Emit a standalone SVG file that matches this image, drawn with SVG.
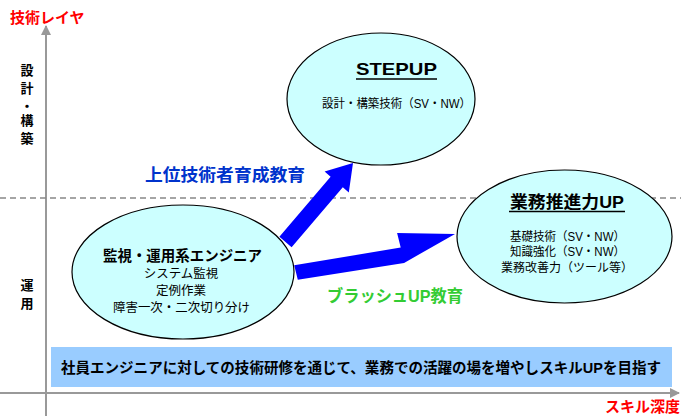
<svg xmlns="http://www.w3.org/2000/svg" width="681" height="416" viewBox="0 0 681 416">
<defs>
<style>
text{font-family:"Liberation Sans","Noto Sans CJK JP",sans-serif;}
.ell{fill:#ccffff;stroke:#000;stroke-width:1.2;}
.t{font-weight:bold;fill:#000;text-anchor:middle;}
.s{fill:#000;text-anchor:middle;}
.red{font-weight:bold;fill:#ff0000;}
.ax{stroke:#999;stroke-width:2;fill:none;}
.arr{fill:#0000ff;}
</style>
<marker id="ah" viewBox="0 0 10 10" refX="9" refY="5" markerWidth="5" markerHeight="5" orient="auto" markerUnits="strokeWidth">
<path d="M0,0 L10,5 L0,10 z" fill="#999"/>
</marker>
</defs>
<rect width="681" height="416" fill="#fff"/>
<g id="axes">
<line class="ax" x1="46" y1="416" x2="46" y2="26" marker-end="url(#ah)"/>
<line class="ax" x1="0" y1="393" x2="679" y2="393" marker-end="url(#ah)"/>
<line x1="0" y1="198" x2="681" y2="198" stroke="#888" stroke-width="1.5" stroke-dasharray="6,4"/>
<text class="red" x="10" y="23" font-size="15">技術レイヤ</text>
<text class="red" x="680" y="412" font-size="15" text-anchor="end">スキル深度</text>
<g font-size="13" font-weight="bold" text-anchor="middle">
<text x="27" y="75">設</text>
<text x="27" y="93">計</text>
<text x="27" y="111">・</text>
<text x="27" y="125">構</text>
<text x="27" y="143">築</text>
<text x="27" y="290">運</text>
<text x="27" y="308">用</text>
</g>
</g>
<g id="connectors">
<polygon class="arr" points="279.4,236.8 291.6,247.2 342.8,187.2 348.8,192.4 353,163 324.6,171.6 330.6,176.8"/>
<polygon class="arr" points="294.2,265.2 297.8,279.8 404.1,262.9 455,234 397.1,232.9 400.7,247.6"/>
<text x="145" y="181" font-size="17.5" font-weight="bold" fill="#0033cc" textLength="160" lengthAdjust="spacingAndGlyphs">上位技術者育成教育</text>
<text x="327" y="302" font-size="16.5" font-weight="bold" fill="#33cc33" textLength="136" lengthAdjust="spacingAndGlyphs">ブラッシュUP教育</text>
</g>
<g id="stepup">
<ellipse class="ell" cx="381" cy="99" rx="94" ry="66"/>
<text class="t" x="396.5" y="75" font-size="17" textLength="81" lengthAdjust="spacingAndGlyphs">STEPUP</text>
<line x1="356" y1="79" x2="437" y2="79" stroke="#000" stroke-width="1.3"/>
<text class="s" x="396.5" y="108" font-size="12" textLength="149" lengthAdjust="spacingAndGlyphs">設計・構築技術（SV・NW）</text>
</g>
<g id="engineer">
<ellipse class="ell" cx="183" cy="272" rx="111" ry="67"/>
<text class="t" x="182.5" y="261" font-size="14.5" textLength="159" lengthAdjust="spacingAndGlyphs">監視・運用系エンジニア</text>
<text class="s" x="181" y="278" font-size="12.5">システム監視</text>
<text class="s" x="181" y="295" font-size="12.5">定例作業</text>
<text class="s" x="181.5" y="312" font-size="12.5" textLength="137" lengthAdjust="spacingAndGlyphs">障害一次・二次切り分け</text>
</g>
<g id="gyomu">
<ellipse class="ell" cx="564.5" cy="236.5" rx="107.5" ry="66.5"/>
<text class="t" x="567" y="208" font-size="16.5" textLength="114" lengthAdjust="spacingAndGlyphs">業務推進力UP</text>
<line x1="509" y1="211.5" x2="625" y2="211.5" stroke="#000" stroke-width="1.3"/>
<text class="s" x="567.5" y="241" font-size="12" textLength="115" lengthAdjust="spacingAndGlyphs">基礎技術（SV・NW）</text>
<text class="s" x="567.5" y="256" font-size="12" textLength="115" lengthAdjust="spacingAndGlyphs">知識強化（SV・NW）</text>
<text class="s" x="567" y="272" font-size="12" textLength="132" lengthAdjust="spacingAndGlyphs">業務改善力（ツール等）</text>
</g>
<g id="banner">
<rect x="51" y="347" width="621" height="40" fill="#99ccff"/>
<text class="t" x="361" y="373" font-size="14.5" textLength="600" lengthAdjust="spacingAndGlyphs">社員エンジニアに対しての技術研修を通じて、業務での活躍の場を増やしスキルUPを目指す</text>
</g>
</svg>
